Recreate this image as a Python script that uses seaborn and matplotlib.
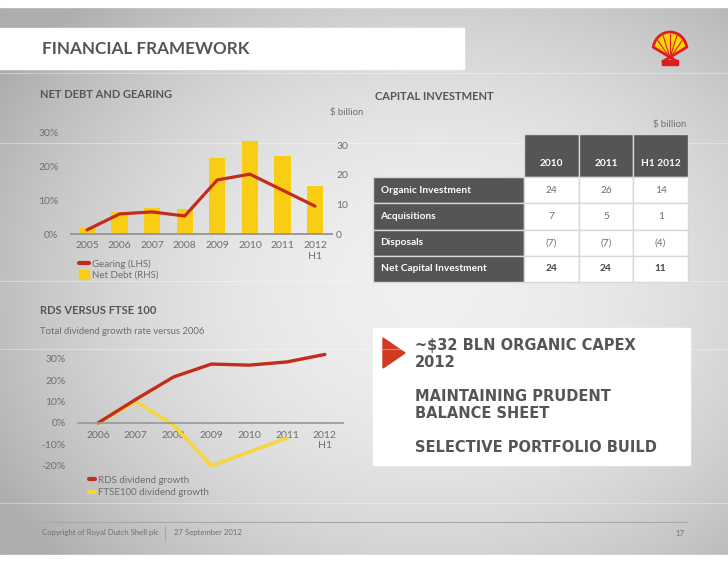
import numpy as np
import pandas as pd
import matplotlib
matplotlib.use("Agg")
import matplotlib.pyplot as plt
import matplotlib.patches as mpatches
from matplotlib.lines import Line2D
import seaborn as sns

# --- data -------------------------------------------------------------
debt_years = ["2005", "2006", "2007", "2008", "2009", "2010", "2011", "2012\nH1"]
gearing_pct = [1.2, 5.9, 6.5, 5.3, 15.9, 17.6, 12.9, 8.2]
net_debt_bn = [2.0, 7.4, 8.8, 8.4, 25.6, 31.3, 26.3, 16.2]

div_years = ["2006", "2007", "2008", "2009", "2010", "2011", "2012\nH1"]
rds_growth = [0, 11, 21.5, 27.5, 27, 28.5, 32]
ftse_growth = [0, 10, -1, -20, -13.5, -7]

capex_cols = ["2010", "2011", "H1 2012"]
capex_rows = ["Organic Investment", "Acquisitions", "Disposals", "Net Capital Investment"]
organic = [24, 26, 14]
acquisitions = [7, 5, 1]
disposals = [-7, -7, -4]
net_capex = [24, 24, 11]

bullets = ["~$32 BLN ORGANIC CAPEX\n2012", "MAINTAINING PRUDENT\nBALANCE SHEET",
           "SELECTIVE PORTFOLIO BUILD"]

RED = "#C22D1A"
YELLOW = "#F9CD14"
YELLOW_LINE = "#F8D53C"
GREY_TXT = "#6E6E6E"
DARK = "#555555"

W, H = 728, 563

sns.set_theme(style="white")
plt.rcParams["font.family"] = ["Lato", "DejaVu Sans"]


def box(x0, y0, x1, y1):
    """pixel box (top-left origin) -> figure fraction rect"""
    return [x0 / W, 1 - y1 / H, (x1 - x0) / W, (y1 - y0) / H]


fig = plt.figure(figsize=(W / 100, H / 100), dpi=100)

# --- background slide --------------------------------------------------
bg = fig.add_axes([0, 0, 1, 1])
yy, xx = np.mgrid[0:H, 0:W]
r = ((xx - 430) / 520.0) ** 2 + ((yy - 290) / 420.0) ** 2
shade = np.clip(0.94 - 0.28 * r, 0.68, 0.94)
bg.imshow(np.dstack([shade] * 3), extent=(0, W, H, 0), aspect="auto")
bg.set_xlim(0, W)
bg.set_ylim(H, 0)
bg.axis("off")
bg.add_patch(mpatches.Rectangle((0, 0), W, 7, color="white"))
bg.add_patch(mpatches.Rectangle((0, 555), W, 8, color="white"))
for yl in [73, 143, 281, 349, 503]:
    bg.axhline(yl, color="white", lw=0.8, alpha=0.35)

# title band
bg.add_patch(mpatches.Rectangle((0, 28), 464, 41, color="white"))
bg.text(42, 49, "FINANCIAL FRAMEWORK", fontsize=12.3, fontweight="bold",
        color=DARK, va="center")

# shell logo (simple)
theta = np.linspace(np.pi * 0.05, np.pi * 0.95, 30)
shell_x = np.concatenate([[662], 670 - 17 * np.cos(theta)[::-1], [678]])
shell_y = np.concatenate([[62], 50 - 18 * np.sin(theta), [62]])
bg.add_patch(mpatches.Polygon(np.column_stack([shell_x, shell_y]), closed=True,
                              facecolor="#FFD500", edgecolor="#DD1D21", lw=2))
for t in np.linspace(0.2, 0.8, 5) * np.pi:
    bg.plot([670, 670 - 15 * np.cos(t)], [58, 50 - 16 * np.sin(t)],
            color="#DD1D21", lw=0.8)
bg.add_patch(mpatches.Rectangle((662, 60), 16, 5, color="#DD1D21"))

# section headings
bg.text(40, 95, "NET DEBT AND GEARING", fontsize=8, fontweight="bold", color=DARK, va="center")
bg.text(375, 96, "CAPITAL INVESTMENT", fontsize=8, fontweight="bold", color=DARK, va="center")
bg.text(40, 311, "RDS VERSUS FTSE 100", fontsize=8, fontweight="bold", color=DARK, va="center")
bg.text(40, 331, "Total dividend growth rate versus 2006", fontsize=6.8, color=GREY_TXT, va="center")
bg.text(363, 113, "$ billion", fontsize=6.8, color=GREY_TXT, va="center", ha="right")
bg.text(686, 124, "$ billion", fontsize=6.8, color=GREY_TXT, va="center", ha="right")

# --- net debt and gearing ---------------------------------------------
ax = fig.add_axes(box(71, 132, 332, 234))
ax2 = ax.twinx()
debt_df = pd.DataFrame({"year": debt_years, "gearing": gearing_pct, "debt": net_debt_bn})
sns.barplot(data=debt_df, x="year", y="debt", ax=ax2, color=YELLOW, width=0.5,
            saturation=1, linewidth=0)
sns.lineplot(x=np.arange(len(debt_years)), y=debt_df["gearing"], ax=ax,
             color=RED, lw=2.3)
ax.set_zorder(ax2.get_zorder() + 1)
ax.patch.set_visible(False)
ax.set_xlim(-0.49, 7.52)
ax.set_ylim(0, 30)
ax2.set_ylim(0, 34.4)
ax.set_yticks([0, 10, 20, 30])
ax.set_yticklabels(["0%", "10%", "20%", "30%"])
ax2.set_yticks([0, 10, 20, 30])
ax.set_xticks(np.arange(len(debt_years)))
ax.set_xticklabels(debt_years)
for a in (ax, ax2):
    for s in ["top", "left", "right"]:
        a.spines[s].set_visible(False)
    a.spines["bottom"].set_color("#9a9a9a")
    a.set_xlabel("")
    a.set_ylabel("")
ax.tick_params(axis="y", length=0, pad=9, labelsize=7.5, labelcolor=GREY_TXT)
ax2.tick_params(axis="y", length=0, pad=3, labelsize=7.5, labelcolor=GREY_TXT)
ax.tick_params(axis="x", length=0, pad=5, labelsize=7.5, labelcolor=GREY_TXT)
for lbl in ax.get_xticklabels():
    lbl.set_linespacing(1.35)

fig.legend(handles=[Line2D([], [], color=RED, lw=3),
                    mpatches.Patch(color=YELLOW)],
           labels=["Gearing (LHS)", "Net Debt (RHS)"],
           loc="upper left", bbox_to_anchor=(74 / W, 1 - 254 / H), frameon=False,
           fontsize=7, labelcolor=GREY_TXT, handlelength=1.0, handleheight=1.0,
           handletextpad=0.4, labelspacing=0.15, borderpad=0)

# --- capital investment table -----------------------------------------
# axes covers the numeric grid; row labels hang off to the left
tax = fig.add_axes(box(524, 134, 688, 282))
tax.axis("off")


def fmt(v):
    return f"({abs(v)})" if v < 0 else str(v)


grid_w = 164.0
grid_h = 43.0 + 26 * len(capex_rows)
cell_text = [[fmt(v) for v in row] for row in (organic, acquisitions, disposals, net_capex)]
tbl = tax.table(cellText=cell_text, rowLabels=capex_rows,
                colLabels=["\n" + c for c in capex_cols],
                cellLoc="center", rowLoc="left", bbox=[0, 0, 1, 1])
tbl.auto_set_font_size(False)
tbl._autoColumns = []  # keep the label column width fixed
for (ri, ci), cell in tbl.get_celld().items():
    cell.set_clip_on(False)
    cell.set_edgecolor("#d8d8d8")
    cell.set_linewidth(1)
    cell.set_height((43 if ri == 0 else 26) / grid_h)
    cell.set_width(151 / grid_w if ci == -1 else 1 / 3)
    txt = cell.get_text()
    txt.set_clip_on(False)
    txt.set_fontsize(7.3)
    if ri == 0:
        cell.set_facecolor(DARK)
        txt.set_color("white")
        txt.set_fontweight("bold")
        txt.set_linespacing(1.9)
    elif ci == -1:
        cell.set_facecolor(DARK)
        cell.PAD = 0.05
        txt.set_color("white")
        txt.set_fontweight("bold")
    else:
        cell.set_facecolor("white")
        txt.set_color(GREY_TXT)
        if ri == len(capex_rows):
            txt.set_fontweight("bold")
            txt.set_color("#444444")

# --- dividend growth ----------------------------------------------------
dax = fig.add_axes(box(78, 348, 343, 476.5))
sns.lineplot(x=np.arange(len(ftse_growth)), y=ftse_growth, ax=dax,
             color=YELLOW_LINE, lw=2.6)
sns.lineplot(x=np.arange(len(rds_growth)), y=rds_growth, ax=dax,
             color=RED, lw=2.4)
dax.set_xlim(-0.53, 6.48)
dax.set_ylim(-25, 35)
dax.set_yticks([-20, -10, 0, 10, 20, 30])
dax.set_yticklabels(["-20%", "-10%", "0%", "10%", "20%", "30%"])
dax.set_xticks(np.arange(len(div_years)))
dax.set_xticklabels(div_years)
dax.patch.set_visible(False)
for s in ["top", "left", "right"]:
    dax.spines[s].set_visible(False)
dax.spines["bottom"].set_position(("data", 0))
dax.spines["bottom"].set_color("#9a9a9a")
dax.tick_params(axis="y", length=0, pad=9, labelsize=7.5, labelcolor=GREY_TXT)
dax.tick_params(axis="x", length=0, pad=6, labelsize=7.5, labelcolor=GREY_TXT)
for lbl in dax.get_xticklabels():
    lbl.set_linespacing(1.05)

fig.legend(handles=[Line2D([], [], color=RED, lw=3),
                    Line2D([], [], color=YELLOW_LINE, lw=3)],
           labels=["RDS dividend growth", "FTSE100 dividend growth"],
           loc="upper left", bbox_to_anchor=(84 / W, 1 - 471 / H), frameon=False,
           fontsize=7, labelcolor=GREY_TXT, handlelength=0.6,
           handletextpad=0.3, labelspacing=0.35, borderpad=0)

# --- key messages ---------------------------------------------------------
bg.add_patch(mpatches.Rectangle((373, 328), 317, 137, color="white"))
bg.add_patch(mpatches.Polygon([(383, 338), (405, 353), (383, 368)], color="#D03A22"))
for txt, yc in zip(bullets, [354, 405, 448]):
    bg.text(415, yc, txt, fontsize=10.5, fontweight="bold", color=DARK,
            va="center", family="DejaVu Sans", linespacing=1.1)

# --- footer -------------------------------------------------------------
bg.plot([42, 687], [522, 522], color="#a8a8a8", lw=0.8)
bg.plot([165, 165], [526, 541], color="#a8a8a8", lw=0.8)
bg.text(42, 533, "Copyright of Royal Dutch Shell plc", fontsize=5.6, color=GREY_TXT, va="center")
bg.text(174, 533, "27 September 2012", fontsize=5.6, color=GREY_TXT, va="center")
bg.text(675, 533, "17", fontsize=5.6, color=GREY_TXT, va="center")

fig.savefig("out.png", dpi=100)
